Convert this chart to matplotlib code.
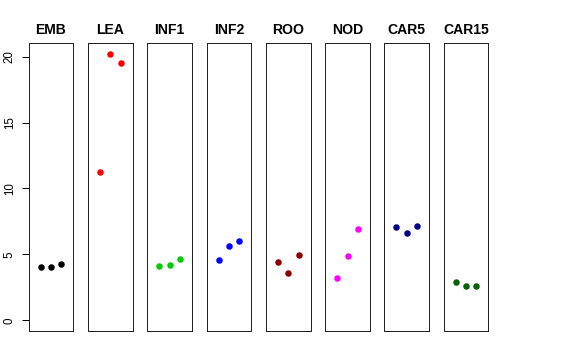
import matplotlib
matplotlib.use("Agg")
import matplotlib.pyplot as plt

# -------- Data --------
GROUPS = ["EMB", "LEA", "INF1", "INF2", "ROO", "NOD", "CAR5", "CAR15"]
COLORS = ["#000000", "#FF0000", "#00CD00", "#0000FF",
          "#8B0000", "#FF00FF", "#00008B", "#006400"]
REPS = [1, 2, 3]
EMB = [4.07, 4.07, 4.25]
LEA = [11.25, 20.23, 19.52]
INF1 = [4.14, 4.22, 4.65]
INF2 = [4.60, 5.64, 5.99]
ROO = [4.45, 3.57, 4.98]
NOD = [3.23, 4.90, 6.90]
CAR5 = [7.06, 6.62, 7.15]
CAR15 = [2.91, 2.60, 2.60]
VALUES = [EMB, LEA, INF1, INF2, ROO, NOD, CAR5, CAR15]
YTICKS = [0, 5, 10, 15, 20]

plt.rcParams["font.family"] = ["Liberation Sans", "DejaVu Sans"]

W, H = 576, 360
fig = plt.figure(figsize=(W / 72, H / 72), dpi=72)

left0, pw, step = 28.7, 44.6, 59.3
top, bottom = 43.3, 331.0

for i, (name, col, vals) in enumerate(zip(GROUPS, COLORS, VALUES)):
    ax = fig.add_axes([(left0 + i * step) / W, (H - bottom) / H,
                       pw / W, (bottom - top) / H])
    ax.plot(REPS, vals, "o", color=col, markersize=6.5, markeredgewidth=0)
    ax.set_xlim(-0.16, 4.16)
    ax.set_ylim(-0.808, 21.008)
    ax.set_xticks([])
    for s in ax.spines.values():
        s.set_linewidth(1.0)
        s.set_color("#222222")
    ax.set_title(name, fontsize=14, fontweight="bold", pad=9)
    if i == 0:
        ax.set_yticks(YTICKS)
        ax.set_yticklabels([str(t) for t in YTICKS], rotation=90, va="center",
                           fontsize=11.5)
        ax.tick_params(axis="y", length=7, width=1, pad=6)
    else:
        ax.set_yticks([])

fig.savefig("out.png", dpi=72)
